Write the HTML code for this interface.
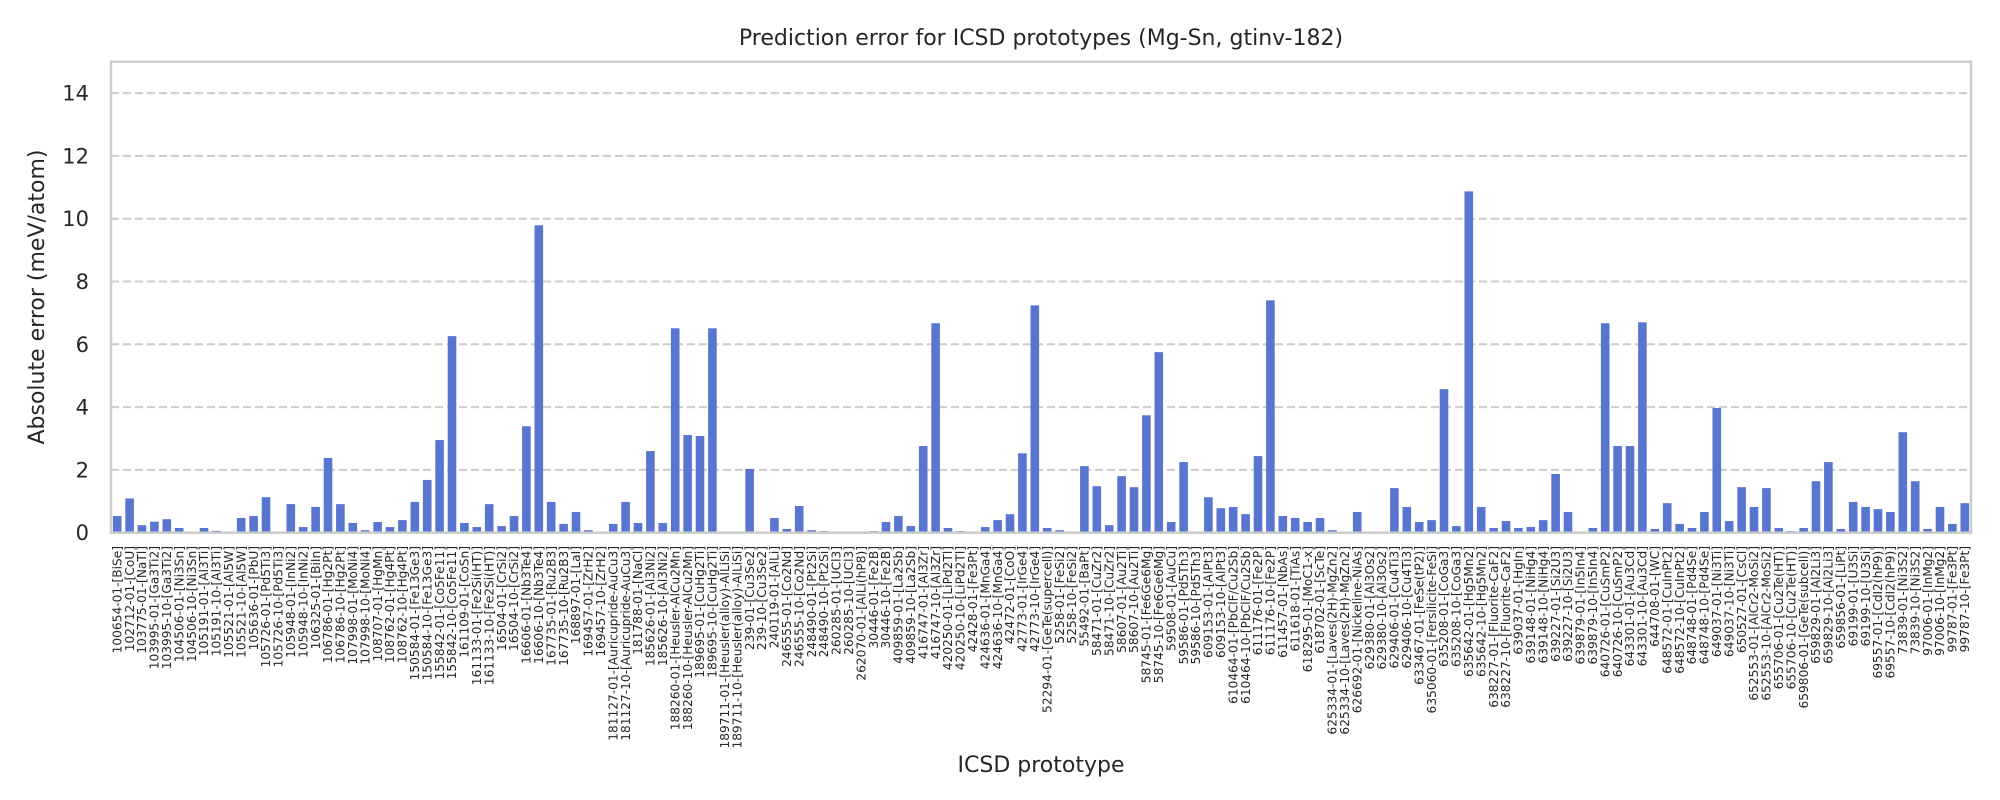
<!DOCTYPE html>
<html><head><meta charset="utf-8"><style>
html,body{margin:0;padding:0;background:#fff;}
svg{display:block;font-family:"DejaVu Sans","Liberation Sans",sans-serif;}
</style></head><body>
<svg id="chart" width="2000" height="800" viewBox="0 0 2000 800" xmlns="http://www.w3.org/2000/svg">
<rect x="0" y="0" width="2000" height="800" fill="#fff"/>
<text x="1041" y="45" text-anchor="middle" font-size="22" fill="#262626">Prediction error for ICSD prototypes (Mg-Sn, gtinv-182)</text>
<text transform="translate(44,297) rotate(-90)" text-anchor="middle" font-size="22" fill="#262626">Absolute error (meV/atom)</text>
<text x="1041" y="772" text-anchor="middle" font-size="22" fill="#262626">ICSD prototype</text>
<g id="grid"></g><g id="bars"></g><g id="yticks"></g><g id="xticks"></g>
<rect x="111" y="61.7" width="1860" height="471" fill="none" stroke="#cccccc" stroke-width="2.5"/>
</svg>
<script>
const categories = ["100654-01-[BiSe]","102712-01-[CoU]","103775-01-[NaTl]","103995-01-[Ga3Ti2]","103995-10-[Ga3Ti2]","104506-01-[Ni3Sn]","104506-10-[Ni3Sn]","105191-01-[Al3Ti]","105191-10-[Al3Ti]","105521-01-[Al5W]","105521-10-[Al5W]","105636-01-[PbU]","105726-01-[Pd5Ti3]","105726-10-[Pd5Ti3]","105948-01-[InNi2]","105948-10-[InNi2]","106325-01-[BiIn]","106786-01-[Hg2Pt]","106786-10-[Hg2Pt]","107998-01-[MoNi4]","107998-10-[MoNi4]","108707-01-[HgMn]","108762-01-[Hg4Pt]","108762-10-[Hg4Pt]","150584-01-[Fe13Ge3]","150584-10-[Fe13Ge3]","155842-01-[Co5Fe11]","155842-10-[Co5Fe11]","161109-01-[CoSn]","161133-01-[Fe2Si(HT)]","161133-10-[Fe2Si(HT)]","16504-01-[CrSi2]","16504-10-[CrSi2]","16606-01-[Nb3Te4]","16606-10-[Nb3Te4]","167735-01-[Ru2B3]","167735-10-[Ru2B3]","168897-01-[LaI]","169457-01-[ZrH2]","169457-10-[ZrH2]","181127-01-[Auricupride-AuCu3]","181127-10-[Auricupride-AuCu3]","181788-01-[NaCl]","185626-01-[Al3Ni2]","185626-10-[Al3Ni2]","188260-01-[Heusler-AlCu2Mn]","188260-10-[Heusler-AlCu2Mn]","189695-01-[CuHg2Ti]","189695-10-[CuHg2Ti]","189711-01-[Heusler(alloy)-AlLiSi]","189711-10-[Heusler(alloy)-AlLiSi]","239-01-[Cu3Se2]","239-10-[Cu3Se2]","240119-01-[AlLi]","246555-01-[Co2Nd]","246555-10-[Co2Nd]","248490-01-[Pt2Si]","248490-10-[Pt2Si]","260285-01-[UCl3]","260285-10-[UCl3]","262070-01-[AlLi(hP8)]","30446-01-[Fe2B]","30446-10-[Fe2B]","409859-01-[La2Sb]","409859-10-[La2Sb]","416747-01-[Al3Zr]","416747-10-[Al3Zr]","420250-01-[LiPd2Tl]","420250-10-[LiPd2Tl]","42428-01-[Fe3Pt]","424636-01-[MnGa4]","424636-10-[MnGa4]","42472-01-[CoO]","42773-01-[IrGe4]","42773-10-[IrGe4]","52294-01-[GeTe(supercell)]","5258-01-[FeSi2]","5258-10-[FeSi2]","55492-01-[BaPt]","58471-01-[CuZr2]","58471-10-[CuZr2]","58607-01-[Au2Ti]","58607-10-[Au2Ti]","58745-01-[Fe6Ge6Mg]","58745-10-[Fe6Ge6Mg]","59508-01-[AuCu]","59586-01-[Pd5Th3]","59586-10-[Pd5Th3]","609153-01-[AlPt3]","609153-10-[AlPt3]","610464-01-[PbClF/Cu2Sb]","610464-10-[PbClF/Cu2Sb]","611176-01-[Fe2P]","611176-10-[Fe2P]","611457-01-[NbAs]","611618-01-[TiAs]","618295-01-[MoC1-x]","618702-01-[ScTe]","625334-01-[Laves(2H)-MgZn2]","625334-10-[Laves(2H)-MgZn2]","626692-01-[Nickeline-NiAs]","629380-01-[Al3Os2]","629380-10-[Al3Os2]","629406-01-[Cu4Ti3]","629406-10-[Cu4Ti3]","633467-01-[FeSe(tP2)]","635060-01-[Fersilicite-FeSi]","635208-01-[CoGa3]","635208-10-[CoGa3]","635642-01-[Hg5Mn2]","635642-10-[Hg5Mn2]","638227-01-[Fluorite-CaF2]","638227-10-[Fluorite-CaF2]","639037-01-[HgIn]","639148-01-[NiHg4]","639148-10-[NiHg4]","639227-01-[Si2U3]","639227-10-[Si2U3]","639879-01-[In5In4]","639879-10-[In5In4]","640726-01-[CuSmP2]","640726-10-[CuSmP2]","643301-01-[Au3Cd]","643301-10-[Au3Cd]","644708-01-[WC]","648572-01-[CuInPt2]","648572-10-[CuInPt2]","648748-01-[Pd4Se]","648748-10-[Pd4Se]","649037-01-[Ni3Ti]","649037-10-[Ni3Ti]","650527-01-[CsCl]","652553-01-[AlCr2-MoSi2]","652553-10-[AlCr2-MoSi2]","655706-01-[Cu2Te(HT)]","655706-10-[Cu2Te(HT)]","659806-01-[GeTe(subcell)]","659829-01-[Al2Li3]","659829-10-[Al2Li3]","659856-01-[LiPt]","69199-01-[U3Si]","69199-10-[U3Si]","69557-01-[CdI2(hP9)]","69557-10-[CdI2(hP9)]","73839-01-[Ni3S2]","73839-10-[Ni3S2]","97006-01-[InMg2]","97006-10-[InMg2]","99787-01-[Fe3Pt]","99787-10-[Fe3Pt]"];
const errors = [0.53,1.09,0.24,0.35,0.43,0.15,0.03,0.15,0.06,0.03,0.47,0.53,1.13,0.0,0.91,0.18,0.82,2.38,0.91,0.31,0.08,0.34,0.18,0.40,0.98,1.68,2.95,6.26,0.31,0.18,0.91,0.21,0.53,3.39,9.79,0.98,0.28,0.66,0.08,0.02,0.28,0.98,0.31,2.6,0.31,6.51,3.11,3.08,6.51,0,0,2.03,0,0.47,0.12,0.85,0.08,0.05,0,0.02,0,0.05,0.34,0.53,0.21,2.76,6.67,0.15,0.05,0,0.18,0.40,0.59,2.53,7.24,0.15,0.08,0,2.12,1.48,0.24,1.80,1.45,3.74,5.75,0.34,2.25,0.02,1.13,0.78,0.82,0.59,2.44,7.40,0.53,0.47,0.34,0.47,0.08,0.02,0.66,0,0,1.42,0.82,0.34,0.40,4.57,0.21,10.87,0.82,0.15,0.37,0.15,0.18,0.40,1.87,0.66,0,0.15,6.67,2.76,2.76,6.70,0.12,0.94,0.28,0.15,0.66,3.97,0.37,1.45,0.82,1.42,0.15,0.05,0.15,1.64,2.25,0.12,0.98,0.82,0.75,0.66,3.20,1.64,0.12,0.82,0.28,0.94];
const yTicks = [0,2,4,6,8,10,12,14];

const NS = "http://www.w3.org/2000/svg";
const X0 = 111, X1 = 1971, Y0 = 532.7, Y1 = 61.7, YMAX = 15;
const band = (X1 - X0) / categories.length;
function xScale(i){ return X0 + (i + 0.5) * band; }
function yScale(v){ return Y0 - (v / YMAX) * (Y0 - Y1); }
function mk(tag, attrs){ const e = document.createElementNS(NS, tag); for (const k in attrs) e.setAttribute(k, attrs[k]); return e; }

const grid = document.getElementById('grid');
const yt = document.getElementById('yticks');
yTicks.forEach(t => {
  const y = yScale(t);
  if (t > 0) {
    const l = mk('line', {x1: X0, x2: X1, y1: y, y2: y, stroke: '#cccccc', 'stroke-width': 2, 'stroke-dasharray': '8,4'});
    
    
    grid.appendChild(l);
  }
  const tx = mk('text', {x: 89, y: y + 7.5, 'text-anchor': 'end', 'font-size': 21, fill: '#262626'});
  tx.textContent = t;
  
  
  yt.appendChild(tx);
});

const bars = document.getElementById('bars');
const xt = document.getElementById('xticks');
const bw = 8.6;
categories.forEach((c, i) => {
  const v = errors[i];
  const cx = xScale(i);
  const r = mk('rect', {x: cx - bw/2, y: yScale(v), width: bw, height: Math.max(0, Y0 - yScale(v)), fill: '#5875cf'});
  
  
  bars.appendChild(r);
  const t = mk('text', {transform: 'translate(' + (cx + 4.2) + ',546) rotate(-90)', 'text-anchor': 'end', 'font-size': 12.2, fill: '#262626'});
  t.textContent = c;
  
  
  xt.appendChild(t);
});
</script>
</body></html>
